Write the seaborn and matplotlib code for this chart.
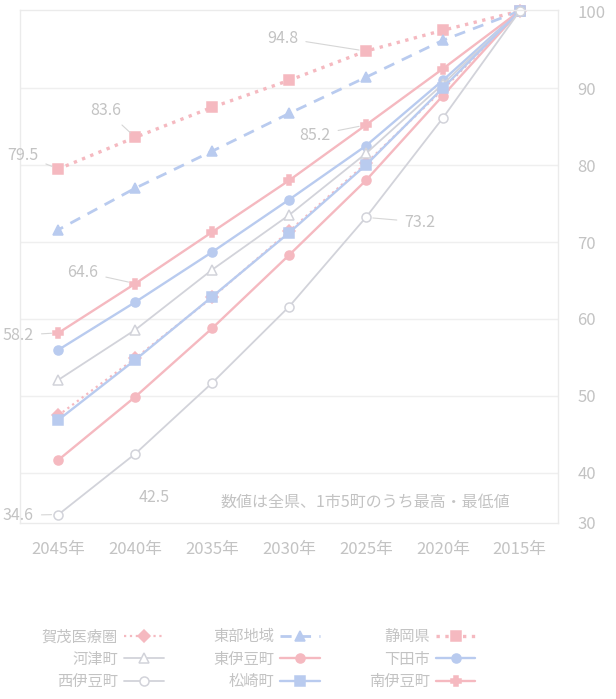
import matplotlib.pyplot as plt
import pandas as pd
import seaborn as sns

# Data: population index (2015 = 100)
years = [2015, 2020, 2025, 2030, 2035, 2040, 2045]
year_labels = ["2015年", "2020年", "2025年", "2030年", "2035年", "2040年", "2045年"]

shizuoka = [100, 97.5, 94.8, 91.0, 87.5, 83.6, 79.5]
tobu = [100, 96.2, 91.4, 86.7, 81.8, 77.0, 71.6]
kamo = [100, 89.8, 80.2, 71.4, 62.8, 54.9, 47.5]
shimoda = [100, 91.0, 82.5, 75.5, 68.7, 62.2, 56.0]
higashiizu = [100, 89.0, 78.0, 68.3, 58.8, 49.9, 41.7]
kawazu = [100, 90.5, 81.5, 73.5, 66.4, 58.6, 52.1]
minamiizu = [100, 92.5, 85.2, 78.0, 71.3, 64.6, 58.2]
matsuzaki = [100, 90.0, 80.0, 71.2, 62.9, 54.7, 46.9]
nishiizu = [100, 86.1, 73.2, 61.6, 51.7, 42.5, 34.6]

RED = "#f5b9c0"
BLUE = "#b9cbef"
GRAY = "#d2d3da"
TXT = "#c3c3c3"

sns.set_theme(style="white")
plt.rcParams["font.family"] = ["Noto Sans CJK JP", "DejaVu Sans"]

fig = plt.figure(figsize=(6.16, 6.99), dpi=100)
ax = fig.add_axes([0.0325, 0.2518, 0.8735, 0.734])

# name, values, color, linestyle, marker, filled, linewidth
series = [
    ("静岡県", shizuoka, RED, ":", "s", True, 2.4),
    ("東部地域", tobu, BLUE, (0, (4, 3)), "^", True, 2.0),
    ("賀茂医療圏", kamo, RED, ":", "D", True, 1.6),
    ("下田市", shimoda, BLUE, "-", "o", True, 1.7),
    ("東伊豆町", higashiizu, RED, "-", "o", True, 1.7),
    ("河津町", kawazu, GRAY, "-", "^", False, 1.3),
    ("南伊豆町", minamiizu, RED, "-", "P", True, 1.7),
    ("松崎町", matsuzaki, BLUE, "-", "s", True, 1.7),
    ("西伊豆町", nishiizu, GRAY, "-", "o", False, 1.3),
]

handles = {}
for name, vals, col, ls, mk, filled, lw in series:
    df = pd.DataFrame({"year": years, "value": vals})
    sns.lineplot(
        data=df, x="year", y="value", ax=ax, color=col, linestyle=ls,
        marker=mk, markersize=6.5, markerfacecolor=col if filled else "white",
        markeredgecolor=col, markeredgewidth=1.1, linewidth=lw,
        label=name, clip_on=False,
    )
    handles[name] = ax.get_lines()[-1]

ax.set_xlim(2047.5, 2012.5)
ax.set_ylim(33.5, 100.15)
ax.set_xticks(years)
ax.set_xticklabels(year_labels)
ax.set_yticks([33.5, 40, 50, 60, 70, 80, 90, 100])
ax.set_yticklabels(["30", "40", "50", "60", "70", "80", "90", "100"])
ax.yaxis.tick_right()
ax.tick_params(axis="x", length=0, pad=13, labelsize=12, labelcolor=TXT)
ax.tick_params(axis="y", length=0, pad=14, labelsize=12, labelcolor=TXT)
ax.set_xlabel("")
ax.set_ylabel("")
for y in [40, 50, 60, 70, 80, 90]:
    ax.axhline(y, color="#efefef", lw=1, zorder=0)
for s in ax.spines.values():
    s.set_color("#ebebeb")
    s.set_linewidth(1)
ax.get_legend().remove()

# Max / min labels
notes = [
    ("94.8", 2025, 94.8, 2030.4, 96.5),
    ("83.6", 2040, 83.6, 2041.9, 87.1),
    ("79.5", 2045, 79.5, 2047.3, 81.3),
    ("85.2", 2025, 85.2, 2028.3, 83.9),
    ("73.2", 2025, 73.2, 2021.5, 72.6),
    ("64.6", 2040, 64.6, 2043.4, 66.1),
    ("58.2", 2045, 58.2, 2047.6, 57.9),
    ("34.6", 2045, 34.6, 2047.6, 34.5),
]
for txt, px, py, tx, ty in notes:
    ax.annotate(
        txt, xy=(px, py), xytext=(tx, ty), ha="center", va="center",
        fontsize=11.5, color=TXT, annotation_clip=False,
        arrowprops=dict(arrowstyle="-", color="#d6d6d6", lw=0.8,
                        shrinkA=3, shrinkB=5),
    )
ax.text(2038.8, 36.8, "42.5", ha="center", va="center", fontsize=11.5, color=TXT)
ax.text(0.641, 0.04, "数値は全県、1市5町のうち最高・最低値", transform=ax.transAxes,
        ha="center", va="center", fontsize=11.5, color=TXT)

order = ["賀茂医療圏", "河津町", "西伊豆町", "東部地域", "東伊豆町", "松崎町",
         "静岡県", "下田市", "南伊豆町"]
leg = fig.legend(
    [handles[n] for n in order], order, loc="center",
    bbox_to_anchor=(0.42, 0.057), ncol=3, frameon=False, markerfirst=False,
    fontsize=11, handlelength=2.6, handletextpad=0.4, columnspacing=3.2,
    labelspacing=0.35,
)
for t in leg.get_texts():
    t.set_color(TXT)

fig.savefig("out.png", dpi=100)
